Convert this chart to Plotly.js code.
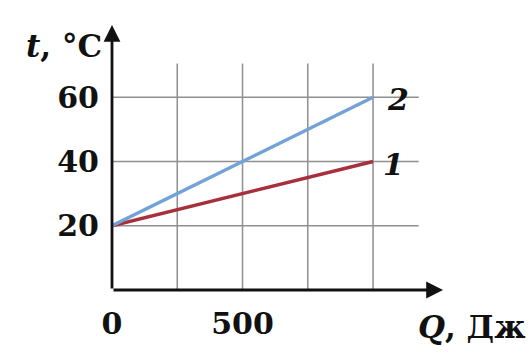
<!DOCTYPE html>
<html><head><meta charset="utf-8">
<script src="https://cdn.plot.ly/plotly-3.0.1.min.js"></script>
<style>html,body{margin:0;padding:0;background:#fff}#c{width:531px;height:363px}</style>
</head><body><div id="c"></div>
<script>
// data
const Q = [0, 1000];
const t1 = [20, 40];
const t2 = [20, 60];
const seriesNames = ['1', '2'];
const xTicks = [0, 500];
const xTickText = ['0', '500'];
const yTicks = [20, 40, 60];
const yTickText = ['20', '40', '60'];
const xGrid = [250, 500, 750, 1000];
const yGrid = [20, 40, 60];

const font = "'DejaVu Serif', serif";
const shapes = [];
xGrid.forEach(v => shapes.push({type:'line', xref:'x', yref:'y', x0:v, x1:v, y0:0, y1:70.5, line:{color:'#8f8f8f', width:1.5}, layer:'below'}));
yGrid.forEach(v => shapes.push({type:'line', xref:'x', yref:'y', x0:0, x1:1175, y0:v, y1:v, line:{color:'#8f8f8f', width:1.5}, layer:'below'}));

const traces = [
  {x:Q, y:t1, mode:'lines', line:{color:'#a8303c', width:3.5}, name:seriesNames[0], cliponaxis:false},
  {x:Q, y:t2, mode:'lines', line:{color:'#73a3d6', width:3.5}, name:seriesNames[1], cliponaxis:false}
];

const annotations = [
  {x:0, y:82.5, ax:0, ay:0, xref:'x', yref:'y', axref:'x', ayref:'y', showarrow:true, arrowhead:2, arrowsize:1.2, arrowwidth:2.8, arrowcolor:'#111', text:''},
  {x:1268, y:0, ax:0, ay:0, xref:'x', yref:'y', axref:'x', ayref:'y', showarrow:true, arrowhead:2, arrowsize:1.2, arrowwidth:2.8, arrowcolor:'#111', text:''},
  {x:1000, y:t2[1], xref:'x', yref:'y', text:'<b><i>'+seriesNames[1]+'</i></b>', showarrow:false, xanchor:'left', xshift:12, yshift:-2, font:{family:font, size:30, color:'#111'}},
  {x:1000, y:t1[1], xref:'x', yref:'y', text:'<b><i>'+seriesNames[0]+'</i></b>', showarrow:false, xanchor:'left', xshift:8, yshift:-3, font:{family:font, size:30, color:'#111'}},
  {x:0, y:82.5, xref:'x', yref:'y', text:'<b><i>t</i>, °C</b>', showarrow:false, xanchor:'right', yanchor:'top', xshift:-8, yshift:-1, font:{family:font, size:31, color:'#111'}},
  {x:1268, y:0, xref:'x', yref:'y', text:'<b><i>Q</i>, Дж</b>', showarrow:false, xanchor:'right', yanchor:'top', xshift:84, yshift:-17, font:{family:font, size:31, color:'#111'}}
];

const b = s => '<b>' + s + '</b>';
const layout = {
  width:531, height:363,
  margin:{l:112, r:88, t:25, b:73},
  paper_bgcolor:'#fff', plot_bgcolor:'#fff',
  showlegend:false,
  xaxis:{range:[0,1268], showgrid:false, zeroline:false, showline:false, tickvals:xTicks, ticktext:xTickText.map(b), ticks:'', ticklabelstandoff:13, tickfont:{family:font, size:30, color:'#111'}},
  yaxis:{range:[0,82.5], showgrid:false, zeroline:false, showline:false, tickvals:yTicks, ticktext:yTickText.map(b), ticks:'', ticklabelstandoff:12, tickfont:{family:font, size:30, color:'#111'}},
  shapes:shapes,
  annotations:annotations
};
Plotly.newPlot('c', traces, layout, {staticPlot:true, displayModeBar:false});
</script></body></html>
